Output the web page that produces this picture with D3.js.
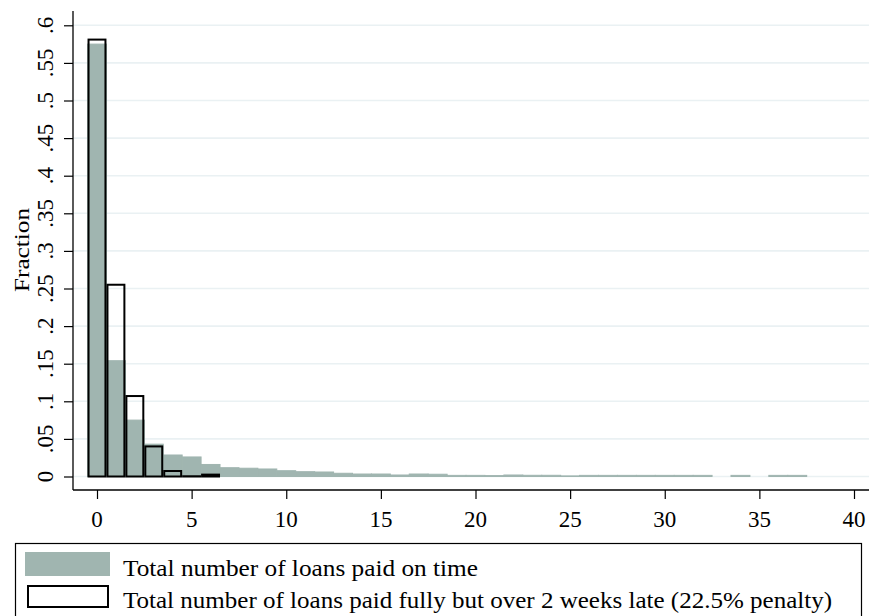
<!DOCTYPE html>
<html>
<head>
<meta charset="utf-8">
<script src="https://cdn.jsdelivr.net/npm/d3@7"></script>
<style>
  body { margin: 0; background: #fff; }
  text { font-family: "Liberation Serif", "DejaVu Serif", serif; fill: #000; }
</style>
</head>
<body>
<div id="chart"></div>
<script>
// bins of width 1 centred on integers 0..37
var bins = d3.range(0, 38)
// share of loans paid on time (gray bars), null = empty bin
var onTime = [0.575, 0.154, 0.075, 0.043, 0.0286, 0.026, 0.016, 0.0117, 0.011, 0.010,
  0.0077, 0.0064, 0.006, 0.0043, 0.0033, 0.0033, 0.002, 0.0033, 0.003, 0.0015,
  0.0015, 0.0012, 0.002, 0.0016, 0.0016, 0.0008, 0.0015, 0.0015, 0.0015, 0.0015,
  0.0015, 0.0015, 0.0015, null, 0.0015, null, 0.0015, 0.0015]
// share of loans paid fully but late (outlined bars)
var lateBins = [0, 1, 2, 3, 4, 5, 6]
var late = [0.581, 0.255, 0.107, 0.040, 0.0073, 0.0003, 0.0025]
var yTicks = [0, 0.05, 0.1, 0.15, 0.2, 0.25, 0.3, 0.35, 0.4, 0.45, 0.5, 0.55, 0.6]
var yTickLabels = ["0", ".05", ".1", ".15", ".2", ".25", ".3", ".35", ".4", ".45", ".5", ".55", ".6"]
var xTicks = [0, 5, 10, 15, 20, 25, 30, 35, 40]
var legendLabels = ["Total number of loans paid on time",
  "Total number of loans paid fully but over 2 weeks late (22.5% penalty)"]
var legendWidths = [355, 709]

var W = 869, H = 616
var gray = "#a0b5b0"

var svg = d3.select("#chart").append("svg")
  .attr("width", W).attr("height", H)

var x = d3.scaleLinear().domain([0, 40]).range([97, 854])
var y = d3.scaleLinear().domain([0, 0.6]).range([476.5, 25.3])

var axisLeftX = 73, axisBottomY = 490

// gridlines
svg.append("g").selectAll("line")
  .data(yTicks).enter().append("line")
  .attr("x1", axisLeftX).attr("x2", W)
  .attr("y1", function(d) { return y(d) }).attr("y2", function(d) { return y(d) })
  .attr("stroke", "#eaf1f3").attr("stroke-width", 1.6)

// gray bars
var bw = x(1) - x(0)
svg.append("g").selectAll("rect")
  .data(bins.filter(function(b) { return onTime[b] != null }))
  .enter().append("rect")
  .attr("x", function(b) { return x(b - 0.5) })
  .attr("width", bw)
  .attr("y", function(b) { return y(onTime[b]) })
  .attr("height", function(b) { return y(0) - y(onTime[b]) })
  .attr("fill", gray).attr("stroke", gray).attr("stroke-width", 1)

// outlined bars
svg.append("g").selectAll("rect")
  .data(lateBins).enter().append("rect")
  .attr("x", function(b) { return x(b - 0.5) + 1 })
  .attr("width", bw - 2)
  .attr("y", function(b) { return y(late[b]) })
  .attr("height", function(b) { return y(0) - y(late[b]) })
  .attr("fill", "none").attr("stroke", "#000").attr("stroke-width", 2)

// y axis
var yAxis = svg.append("g")
  .attr("transform", "translate(" + axisLeftX + ",0)")
  .call(d3.axisLeft(y).tickValues(yTicks).tickSize(9).tickFormat(""))
yAxis.select(".domain").remove()
yAxis.selectAll(".tick line").attr("stroke", "#000").attr("stroke-width", 1.2)
svg.append("line")
  .attr("x1", axisLeftX).attr("x2", axisLeftX)
  .attr("y1", 11).attr("y2", axisBottomY)
  .attr("stroke", "#000").attr("stroke-width", 1.3)

svg.append("g").selectAll("text")
  .data(yTicks).enter().append("text")
  .attr("transform", function(d) { return "translate(53," + y(d) + ") rotate(-90)" })
  .attr("text-anchor", "middle")
  .attr("font-size", 23)
  .text(function(d, i) { return yTickLabels[i] })

svg.append("text")
  .attr("transform", "translate(29,250) rotate(-90)")
  .attr("text-anchor", "middle")
  .attr("font-size", 22)
  .attr("textLength", 84).attr("lengthAdjust", "spacingAndGlyphs")
  .text("Fraction")

// x axis
var xAxis = svg.append("g")
  .attr("transform", "translate(0," + axisBottomY + ")")
  .call(d3.axisBottom(x).tickValues(xTicks).tickSize(9).tickFormat(""))
xAxis.select(".domain").remove()
xAxis.selectAll(".tick line").attr("stroke", "#000").attr("stroke-width", 1.2)
svg.append("line")
  .attr("x1", axisLeftX).attr("x2", W)
  .attr("y1", axisBottomY).attr("y2", axisBottomY)
  .attr("stroke", "#000").attr("stroke-width", 1.3)

svg.append("g").selectAll("text")
  .data(xTicks).enter().append("text")
  .attr("x", function(d) { return x(d) })
  .attr("y", 527)
  .attr("text-anchor", "middle")
  .attr("font-size", 23)
  .text(function(d) { return d })

// legend
svg.append("rect")
  .attr("x", 15.5).attr("y", 543.5).attr("width", 846).attr("height", 90)
  .attr("fill", "#fff").attr("stroke", "#000").attr("stroke-width", 1.2)

svg.append("rect")
  .attr("x", 25).attr("y", 552).attr("width", 85).attr("height", 24)
  .attr("fill", gray)
svg.append("rect")
  .attr("x", 28).attr("y", 586).attr("width", 80).attr("height", 21)
  .attr("fill", "#fff").attr("stroke", "#000").attr("stroke-width", 2)

svg.append("g").selectAll("text")
  .data(legendLabels).enter().append("text")
  .attr("x", 123)
  .attr("y", function(d, i) { return 576 + i * 32 })
  .attr("font-size", 23)
  .attr("textLength", function(d, i) { return legendWidths[i] })
  .attr("lengthAdjust", "spacingAndGlyphs")
  .text(function(d) { return d })
</script>
</body>
</html>
